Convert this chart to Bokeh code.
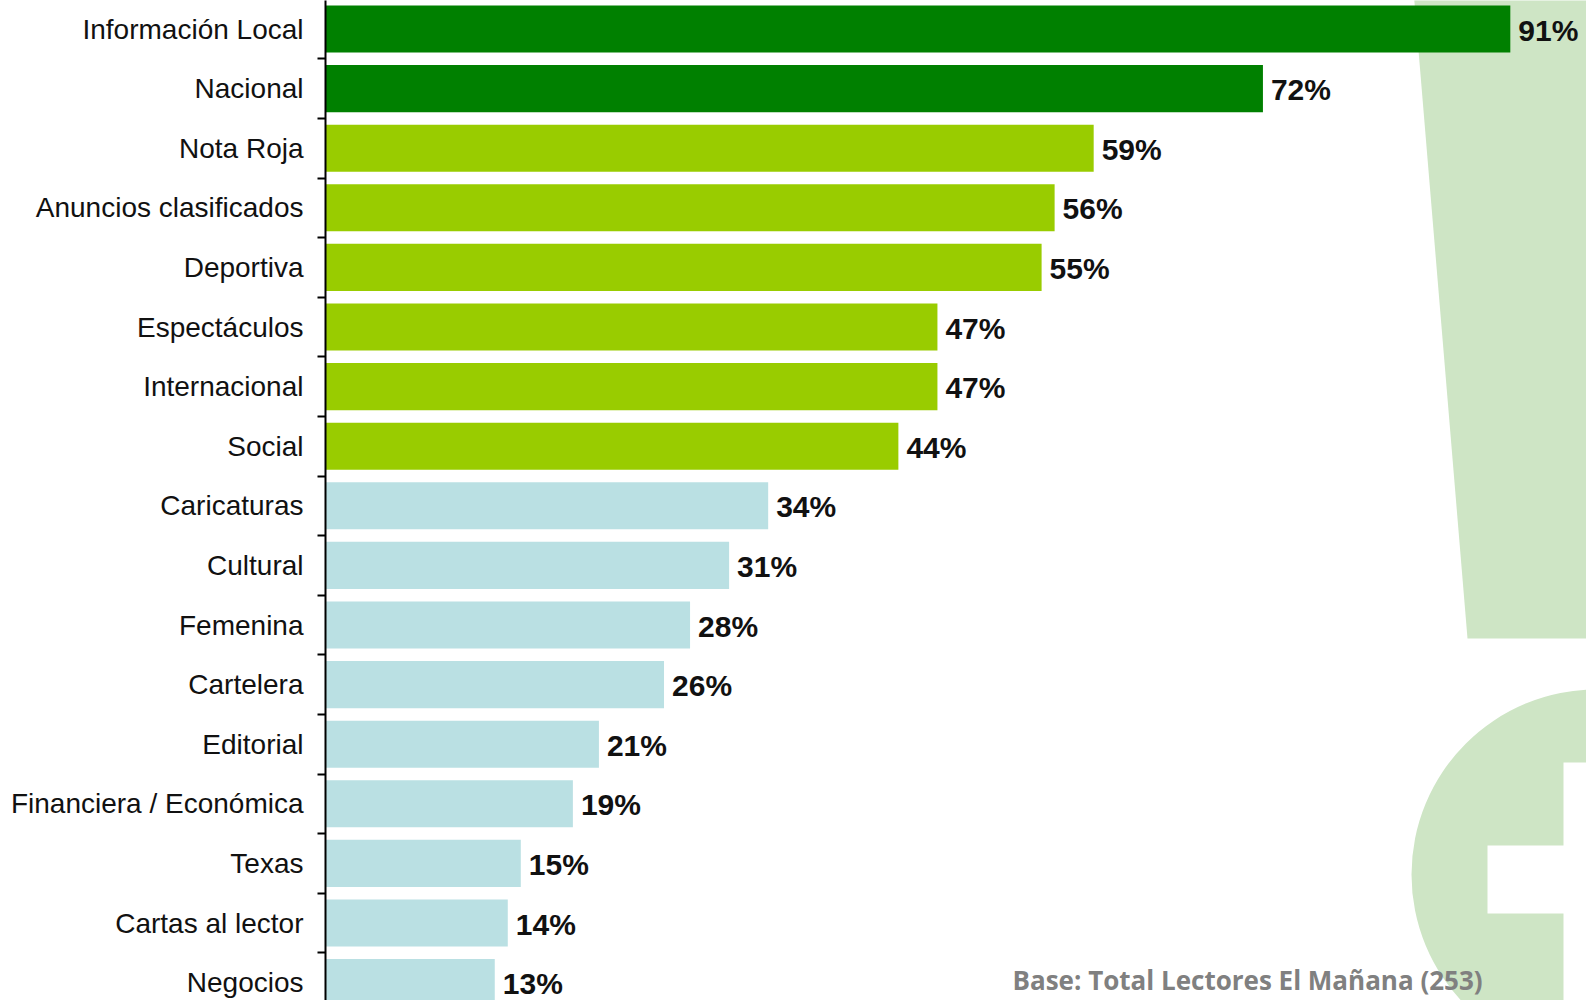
from bokeh.plotting import figure
from bokeh.models import Range1d, FixedTicker, Label, LinearAxis
from bokeh.core.properties import value
from bokeh.embed import file_html
from bokeh.resources import INLINE

# ---- data ----
categories = ["Información Local", "Nacional", "Nota Roja", "Anuncios clasificados",
              "Deportiva", "Espectáculos", "Internacional", "Social", "Caricaturas",
              "Cultural", "Femenina", "Cartelera", "Editorial", "Financiera / Económica",
              "Texas", "Cartas al lector", "Negocios"]
values = [91, 72, 59, 56, 55, 47, 47, 44, 34, 31, 28, 26, 21, 19, 15, 14, 13]
groups = ["top"] * 2 + ["mid"] * 6 + ["low"] * 9
footnote = "Base: Total Lectores El Mañana (253)"

group_colors = {"top": "#008000", "mid": "#99CC00", "low": "#BAE0E3"}
colors = [group_colors[g] for g in groups]
labels = [f"{v}%" for v in values]
idx = list(range(len(categories)))

# ---- geometry helpers (image pixel -> data), for decoration only ----
X0, XS = 325.0, 13.02     # px of 0%, px per %
Y0, YS = 28.5, 59.6       # px of first row centre, px per row


def px_x(X):
    return (X - X0) / XS


def px_y(Y):
    return (Y - Y0) / YS


W, H = 1586, 1000
left_border = 325

p = figure(width=W, height=H, output_backend="svg", toolbar_location=None,
           x_range=Range1d(0, px_x(W)),
           y_range=Range1d(px_y(H), px_y(0)),
           min_border_left=left_border, min_border_right=0,
           min_border_top=0, min_border_bottom=0,
           x_axis_location=None, y_axis_location=None)
p.outline_line_color = None
p.grid.visible = False
p.background_fill_color = "white"
p.border_fill_color = "white"

# ---- background decoration ----
deco = "#CEE5C5"
p.patch([px_x(1413), px_x(1700), px_x(1700), px_x(1467)],
        [px_y(-10), px_y(-10), px_y(638), px_y(638)],
        fill_color=deco, line_color=None)
p.scatter([px_x(1596)], [px_y(874)], size=370, marker="circle",
          fill_color=deco, line_color=None)
p.quad(left=[px_x(1487), px_x(1563)], right=[px_x(1700), px_x(1700)],
       top=[px_y(845), px_y(762)], bottom=[px_y(913), px_y(1100)],
       fill_color="white", line_color=None)

# ---- bars ----
p.hbar(y=idx, left=0, right=values, height=0.79, fill_color=colors, line_color=None)

p.text(x=values, y=idx, text=labels, x_offset=8, y_offset=1,
       text_font=value("Liberation Sans"), text_font_style="bold",
       text_font_size="30px", text_color="#111111",
       text_baseline="middle", text_align="left")

# ---- y axis: labels at row centres, ticks at row boundaries ----
yaxis = LinearAxis()
yaxis.ticker = FixedTicker(ticks=idx, minor_ticks=[i + 0.5 for i in range(-1, len(categories))])
yaxis.major_label_overrides = {i: c for i, c in zip(idx, categories)}
yaxis.major_tick_out = 0
yaxis.major_tick_in = 0
yaxis.minor_tick_out = 8
yaxis.minor_tick_in = 0
yaxis.minor_tick_line_color = "black"
yaxis.minor_tick_line_width = 2
yaxis.axis_line_color = "black"
yaxis.axis_line_width = 2
yaxis.major_label_standoff = 14
yaxis.major_label_text_font = "Liberation Sans"
yaxis.major_label_text_font_size = "28px"
yaxis.major_label_text_color = "#111111"
p.add_layout(yaxis, "left")

# ---- footnote ----
p.add_layout(Label(x=px_x(1012), y=px_y(979), text=footnote,
                   text_font="Open Sans", text_font_style="bold", text_font_size="26px",
                   text_color="#808080", text_baseline="alphabetic"))

open("out.html", "w").write(file_html(p, INLINE))
